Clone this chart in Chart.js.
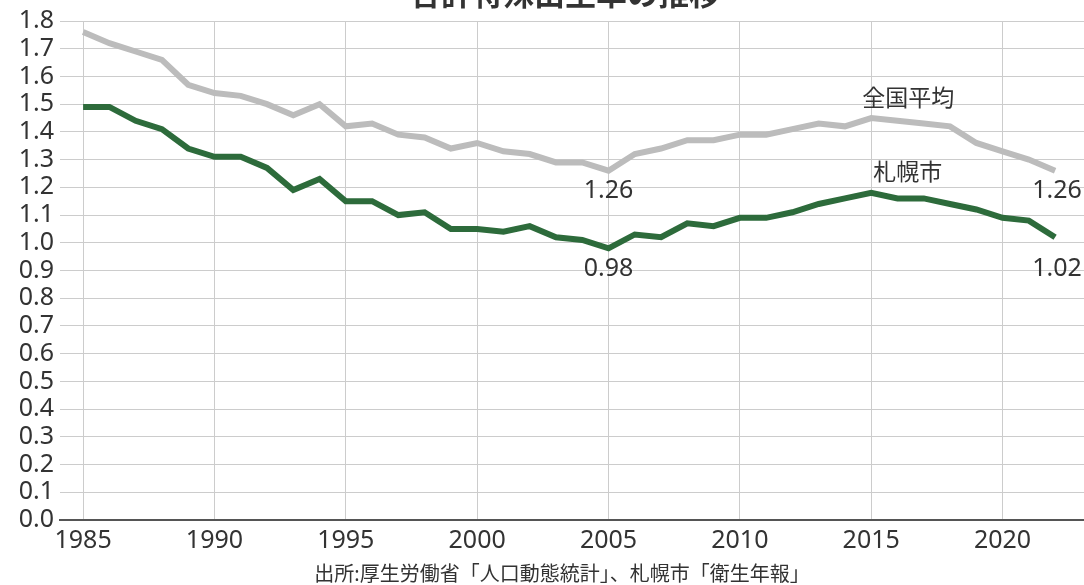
<!DOCTYPE html>
<html>
<head>
<meta charset="utf-8">
<script src="https://cdn.jsdelivr.net/npm/chart.js@4/dist/chart.umd.min.js"></script>
<style>
  html, body { margin: 0; padding: 0; background: #fff; }
  #wrap { width: 1084px; height: 585px; }
</style>
</head>
<body>
<div id="wrap"><canvas id="birthChart" width="1084" height="585"></canvas></div>
<script>
var years = [];
for (var y = 1985; y <= 2022; y++) years.push(y);

var national = [1.76, 1.72, 1.69, 1.66, 1.57, 1.54, 1.53, 1.50, 1.46, 1.50,
                1.42, 1.43, 1.39, 1.38, 1.34, 1.36, 1.33, 1.32, 1.29, 1.29,
                1.26, 1.32, 1.34, 1.37, 1.37, 1.39, 1.39, 1.41, 1.43, 1.42,
                1.45, 1.44, 1.43, 1.42, 1.36, 1.33, 1.30, 1.26];
var sapporo = [1.49, 1.49, 1.44, 1.41, 1.34, 1.31, 1.31, 1.27, 1.19, 1.23,
               1.15, 1.15, 1.10, 1.11, 1.05, 1.05, 1.04, 1.06, 1.02, 1.01,
               0.98, 1.03, 1.02, 1.07, 1.06, 1.09, 1.09, 1.11, 1.14, 1.16,
               1.18, 1.16, 1.16, 1.14, 1.12, 1.09, 1.08, 1.02];
var xTicks = [1985, 1990, 1995, 2000, 2005, 2010, 2015, 2020];

var title = '合計特殊出生率の推移';
var source = '出所:厚生労働省「人口動態統計」、札幌市「衛生年報」';
var seriesNames = ['全国平均', '札幌市'];

const FONT = '"Noto Sans", "Noto Sans CJK JP", sans-serif';
const TEXT = '#333333';

function pts(vals) {
    return vals.map((v, i) => ({ x: years[i], y: v }));
}

const labelsPlugin = {
    id: 'labels',
    afterDraw(chart) {
        const ctx = chart.ctx;
        const xs = chart.scales.x, ys = chart.scales.y;
        ctx.save();
        ctx.fillStyle = TEXT;
        // title (cut off at top, as in the picture)
        ctx.font = 'bold 31px ' + FONT;
        ctx.textAlign = 'center';
        ctx.textBaseline = 'alphabetic';
        ctx.fillText(title, 565, 5);
        // source
        ctx.font = '20px ' + FONT;
        ctx.textBaseline = 'middle';
        ctx.fillText(source, 562, 575);

        ctx.font = '25px ' + FONT;
        // value labels at 2005 and 2022
        const i05 = years.indexOf(2005), iLast = years.length - 1;
        ctx.textAlign = 'center';
        ctx.fillText(national[i05].toFixed(2), xs.getPixelForValue(2005), ys.getPixelForValue(national[i05]) + 20);
        ctx.fillText(sapporo[i05].toFixed(2), xs.getPixelForValue(2005), ys.getPixelForValue(sapporo[i05]) + 21);
        ctx.fillText(national[iLast].toFixed(2), xs.getPixelForValue(years[iLast]) + 2, ys.getPixelForValue(national[iLast]) + 20);
        ctx.fillText(sapporo[iLast].toFixed(2), xs.getPixelForValue(years[iLast]) + 2, ys.getPixelForValue(sapporo[iLast]) + 32);
        // series names near 2015
        const i15 = years.indexOf(2015);
        ctx.font = '23px ' + FONT;
        ctx.textAlign = 'left';
        ctx.fillText(seriesNames[0], xs.getPixelForValue(2015) - 9, ys.getPixelForValue(national[i15]) - 19);
        ctx.fillText(seriesNames[1], xs.getPixelForValue(2015) + 2, ys.getPixelForValue(sapporo[i15]) - 19);
        ctx.restore();
    }
};

const ctx = document.getElementById('birthChart').getContext('2d');
const chart = new Chart(ctx, {
    type: 'line',
    data: {
        datasets: [{
            label: seriesNames[0],
            data: pts(national),
            borderColor: '#bcbcbc',
            borderWidth: 6,
            pointRadius: 0,
            tension: 0
        }, {
            label: seriesNames[1],
            data: pts(sapporo),
            borderColor: '#2d6b3b',
            borderWidth: 6,
            pointRadius: 0,
            tension: 0
        }]
    },
    options: {
        responsive: false,
        animation: false,
        layout: { padding: { top: 18, right: 0, left: 0, bottom: 0 } },
        plugins: {
            legend: { display: false },
            tooltip: { enabled: false }
        },
        scales: {
            x: {
                type: 'linear',
                min: 1984.12,
                max: 2023.1,
                afterBuildTicks: scale => {
                    scale.ticks = xTicks.map(v => ({ value: v }));
                },
                afterFit: scale => { scale.height = 65; },
                ticks: {
                    color: TEXT,
                    font: { family: FONT, size: 25 },
                    padding: 6,
                    maxRotation: 0,
                    autoSkip: false,
                    callback: v => String(v)
                },
                grid: { color: '#cccccc', lineWidth: 1, drawTicks: false },
                border: { color: '#555555', width: 2 }
            },
            y: {
                min: 0,
                max: 1.8,
                afterFit: scale => { scale.width = 60; },
                ticks: {
                    stepSize: 0.1,
                    autoSkip: false,
                    color: TEXT,
                    font: { family: FONT, size: 25 },
                    padding: 6,
                    callback: v => Number(v).toFixed(1)
                },
                grid: { color: '#cccccc', lineWidth: 1, drawTicks: false },
                border: { display: false }
            }
        }
    },
    plugins: [labelsPlugin]
});
</script>
</body>
</html>
